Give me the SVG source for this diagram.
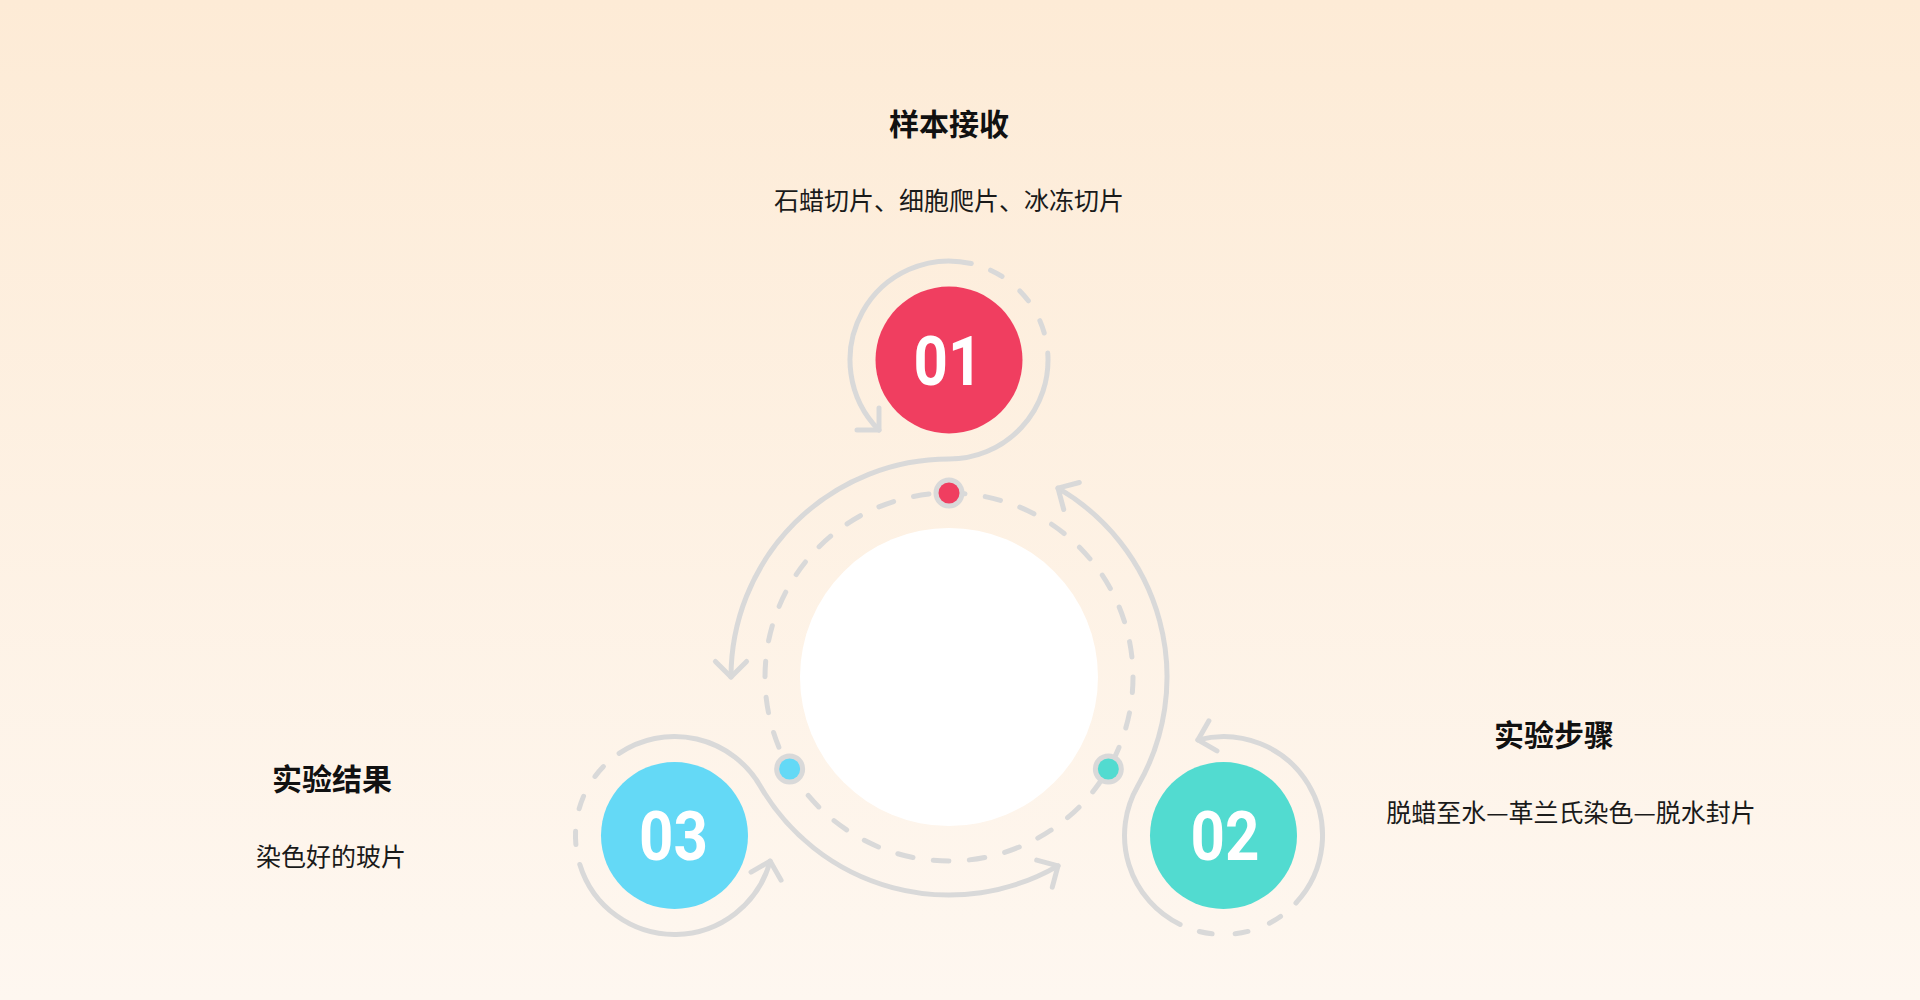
<svg xmlns="http://www.w3.org/2000/svg" xmlns:xlink="http://www.w3.org/1999/xlink" width="1920" height="1000" viewBox="0 0 1920 1000">
<style>
.line{fill:none;stroke:#d9d9d9;stroke-width:5;stroke-linecap:round;stroke-linejoin:round}
.dash{fill:none;stroke:#d9d9d9;stroke-width:5;stroke-linecap:round;stroke-dasharray:13 23;stroke-dashoffset:15.5}
.ring{fill:none;stroke:#d9d9d9;stroke-width:5;stroke-linecap:round;stroke-dasharray:15.6 20.53}
.num{font-family:Roboto,"Liberation Sans",sans-serif;font-weight:700;font-size:69px;fill:#ffffff}
.title{font-family:"Noto Sans CJK SC","Noto Sans",sans-serif;font-weight:700;font-size:30px;fill:#111111}
.desc{font-family:"Noto Sans CJK SC","Noto Sans",sans-serif;font-weight:400;font-size:25px;fill:#1a1a1a}
.dotbase{fill:#d9d9d9}
</style>
<defs>
<linearGradient id="bg" x1="0" y1="0" x2="0" y2="1">
<stop offset="0" stop-color="#fdebd6"/>
<stop offset="1" stop-color="#fef7f0"/>
</linearGradient>
<g id="flow">
<path class="line" d="M 731 677 A 218 218 0 0 1 949 459 A 99 99 0 0 0 1047.76 353.09"/>
<path class="dash" d="M 1047.76 353.09 A 99 99 0 0 0 971.27 263.54"/>
<path class="line" d="M 971.27 263.54 A 99 99 0 0 0 879 430"/>
<path class="line" d="M 857 430 L 879 430 L 879 408"/>
<path class="line" d="M 715.4 661.4 L 731 677 L 746.6 661.4"/>
</g>
</defs>
<rect x="0" y="0" width="1920" height="1000" fill="url(#bg)"/>
<g id="hub">
<circle cx="949" cy="677" r="149" fill="#ffffff"/>
<circle class="ring" cx="949" cy="677" r="184"/>
<circle class="dotbase" cx="949" cy="493" r="15.5"/>
<circle cx="949" cy="493" r="10.5" fill="#f03e60"/>
<circle class="dotbase" cx="1108.35" cy="769" r="15.5"/>
<circle cx="1108.35" cy="769" r="10.5" fill="#52dbd0"/>
<circle class="dotbase" cx="789.65" cy="769" r="15.5"/>
<circle cx="789.65" cy="769" r="10.5" fill="#64d9f6"/>
</g>
<g id="connectors">
<use xlink:href="#flow" href="#flow"/>
<use xlink:href="#flow" href="#flow" transform="rotate(120 949 677)"/>
<use xlink:href="#flow" href="#flow" transform="rotate(240 949 677)"/>
</g>
<g id="node-01">
<circle cx="949" cy="360" r="73.5" fill="#f03e60"/>
<text class="num" text-anchor="middle" transform="translate(948 384.5) scale(0.87 1)">01</text>
</g>
<g id="node-02">
<circle cx="1223.5" cy="835.5" r="73.5" fill="#52dbd0"/>
<text class="num" text-anchor="middle" transform="translate(1225 860) scale(0.87 1)">02</text>
</g>
<g id="node-03">
<circle cx="674.5" cy="835.5" r="73.5" fill="#64d9f6"/>
<text class="num" text-anchor="middle" transform="translate(673.5 860) scale(0.87 1)">03</text>
</g>
<g id="label-01">
<text class="title" x="949" y="135" text-anchor="middle">样本接收</text>
<text class="desc" x="949" y="210" text-anchor="middle">石蜡切片、细胞爬片、冰冻切片</text>
</g>
<g id="label-02">
<text class="title" x="1554" y="746" text-anchor="middle">实验步骤</text>
<text class="desc" x="1571" y="822" text-anchor="middle">脱蜡至水—革兰氏染色—脱水封片</text>
</g>
<g id="label-03">
<text class="title" x="332" y="790" text-anchor="middle">实验结果</text>
<text class="desc" x="331" y="866" text-anchor="middle">染色好的玻片</text>
</g>
</svg>
